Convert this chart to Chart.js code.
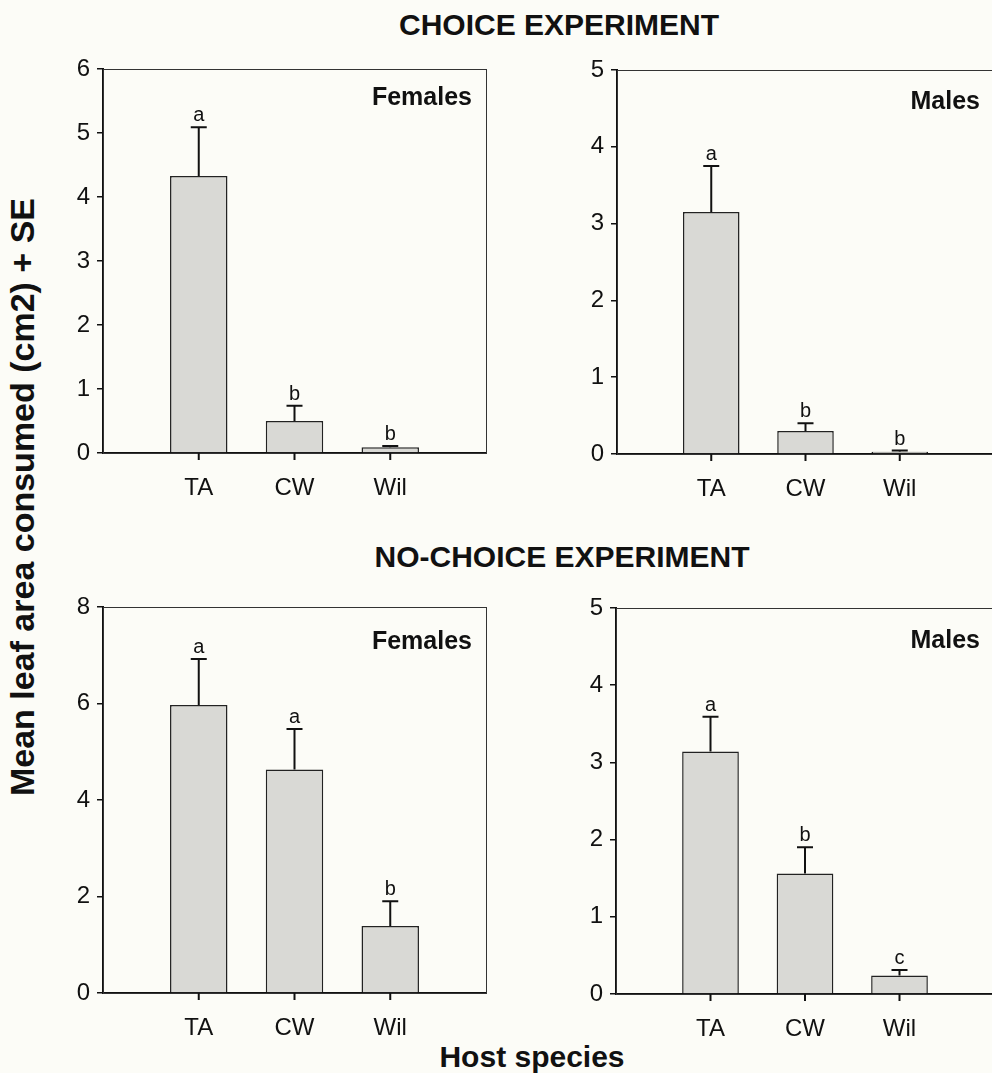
<!DOCTYPE html>
<html><head><meta charset="utf-8">
<script src="https://cdn.jsdelivr.net/npm/chart.js@4.4.1/dist/chart.umd.min.js"></script>
<style>
html,body{margin:0;padding:0;background:#fcfcf7;width:992px;height:1073px;overflow:hidden;position:relative;font-family:"Liberation Sans",Arial,sans-serif;}
canvas{position:absolute;}
.t{position:absolute;font-weight:bold;color:#111;white-space:nowrap;line-height:1;}
</style></head><body>
<div class="t" style="left:559px;top:10px;font-size:30px;transform:translateX(-50%);">CHOICE EXPERIMENT</div>
<div class="t" style="left:562px;top:542px;font-size:30px;transform:translateX(-50%);">NO-CHOICE EXPERIMENT</div>
<div class="t" style="left:532px;top:1042px;font-size:30px;transform:translateX(-50%);">Host species</div>
<div class="t" style="left:22px;top:497px;font-size:34px;transform:translate(-50%,-50%) rotate(-90deg);">Mean leaf area consumed (cm2) + SE</div>
<canvas id="c0"></canvas><canvas id="c1"></canvas><canvas id="c2"></canvas><canvas id="c3"></canvas>
<script>
// ---- data ----
const categories = ['TA', 'CW', 'Wil'];

const choiceFemaleMeans   = [4.33, 0.50, 0.09];
const choiceFemaleSE      = [0.76, 0.24, 0.02];
const choiceFemaleLetters = ['a', 'b', 'b'];

const choiceMaleMeans     = [3.15, 0.30, 0.03];
const choiceMaleSE        = [0.60, 0.10, 0.015];
const choiceMaleLetters   = ['a', 'b', 'b'];

const noChoiceFemaleMeans   = [5.97, 4.63, 1.39];
const noChoiceFemaleSE      = [0.95, 0.84, 0.51];
const noChoiceFemaleLetters = ['a', 'a', 'b'];

const noChoiceMaleMeans   = [3.14, 1.56, 0.24];
const noChoiceMaleSE      = [0.45, 0.34, 0.07];
const noChoiceMaleLetters = ['a', 'b', 'c'];

const yMaxValues  = [6, 5, 8, 5];
const yStepValues = [1, 1, 2, 1];
const panelLabels = ['Females', 'Males', 'Females', 'Males'];

// ---- layout (plot area pixel boxes) ----
const geom = [
  {L:103, R:487, T:69,  B:453},
  {L:617, R:995, T:70,  B:454},
  {L:103, R:487, T:607, B:993},
  {L:616, R:995, T:608, B:994}
];
const labelDy = [36, 39, 42, 40];

const panels = [
  {means: choiceFemaleMeans,   se: choiceFemaleSE,   letters: choiceFemaleLetters},
  {means: choiceMaleMeans,     se: choiceMaleSE,     letters: choiceMaleLetters},
  {means: noChoiceFemaleMeans, se: noChoiceFemaleSE, letters: noChoiceFemaleLetters},
  {means: noChoiceMaleMeans,   se: noChoiceMaleSE,   letters: noChoiceMaleLetters}
];

const FONT = '"Liberation Sans", Arial, sans-serif';
const INK = '#111';

const errorBarPlugin = {
  id: 'errbars',
  beforeDatasetsDraw(chart) {
    const a = chart.chartArea, ctx = chart.ctx;
    ctx.save();
    ctx.strokeStyle = '#333';
    ctx.lineWidth = 1;
    ctx.strokeRect(a.left + 0.5, a.top + 0.5, a.right - a.left, a.bottom - a.top);
    ctx.restore();
  },
  afterDatasetsDraw(chart, args, opts) {
    const ctx = chart.ctx;
    const meta = chart.getDatasetMeta(0);
    const ys = chart.scales.y;
    const a = chart.chartArea;
    ctx.save();
    ctx.strokeStyle = INK;
    ctx.fillStyle = INK;
    ctx.lineWidth = 2;
    opts.means.forEach((m, i) => {
      const el = meta.data[i + 1];
      const x = el.x;
      const y0 = ys.getPixelForValue(m);
      const y1 = ys.getPixelForValue(m + opts.se[i]);
      ctx.beginPath();
      ctx.moveTo(x, y0); ctx.lineTo(x, y1);
      ctx.moveTo(x - 8, y1); ctx.lineTo(x + 8, y1);
      // category tick mark below the x axis
      ctx.moveTo(x, a.bottom); ctx.lineTo(x, a.bottom + 7);
      ctx.stroke();
      ctx.font = '20px ' + FONT;
      ctx.textAlign = 'center';
      ctx.textBaseline = 'alphabetic';
      ctx.fillText(opts.letters[i], x, y1 - 6);
    });
    ctx.font = 'bold 25px ' + FONT;
    ctx.textAlign = 'right';
    ctx.textBaseline = 'alphabetic';
    ctx.fillText(opts.label, a.right - 14, a.top + opts.labelDy);
    ctx.restore();
  }
};

panels.forEach((p, k) => {
  const g = geom[k];
  const cv = document.getElementById('c' + k);
  const w = g.R - g.L + 115, h = g.B - g.T + 80;
  cv.width = w; cv.height = h;
  cv.style.left = (g.L - 100) + 'px';
  cv.style.top = (g.T - 30) + 'px';
  cv.style.width = w + 'px';
  cv.style.height = h + 'px';
  const labels = [''].concat(categories, ['']);
  const data = [null].concat(p.means, [null]);
  new Chart(cv, {
    type: 'bar',
    data: {
      labels: labels,
      datasets: [{
        data: data,
        backgroundColor: '#d9d9d5',
        borderColor: '#222',
        borderWidth: 1.5,
        barPercentage: 0.6,
        categoryPercentage: 1.0
      }]
    },
    options: {
      responsive: false,
      animation: false,
      devicePixelRatio: 1,
      layout: {padding: {left: 40, right: 15, top: 30, bottom: 0}},
      plugins: {
        legend: {display: false},
        tooltip: {enabled: false},
        errbars: {means: p.means, se: p.se, letters: p.letters, label: panelLabels[k], labelDy: labelDy[k]}
      },
      scales: {
        x: {
          type: 'category',
          offset: false,
          afterFit(s) { s.height = 50; },
          grid: {
            offset: false,
            drawOnChartArea: false,
            drawTicks: true,
            tickLength: 5,
            color: 'rgba(0,0,0,0)'
          },
          border: {display: true, color: INK, width: 2},
          ticks: {
            autoSkip: false, maxRotation: 0, minRotation: 0,
            color: INK, padding: 16,
            font: {family: FONT, size: 24}
          }
        },
        y: {
          min: 0, max: yMaxValues[k],
          afterFit(s) { s.width = 60; },
          grid: {drawOnChartArea: false, drawTicks: true, tickLength: 6, color: INK, lineWidth: 1.5},
          border: {display: true, color: INK, width: 2},
          ticks: {
            stepSize: yStepValues[k],
            color: INK, padding: 7,
            font: {family: FONT, size: 24}
          }
        }
      }
    },
    plugins: [errorBarPlugin]
  });
});
</script>
</body></html>
